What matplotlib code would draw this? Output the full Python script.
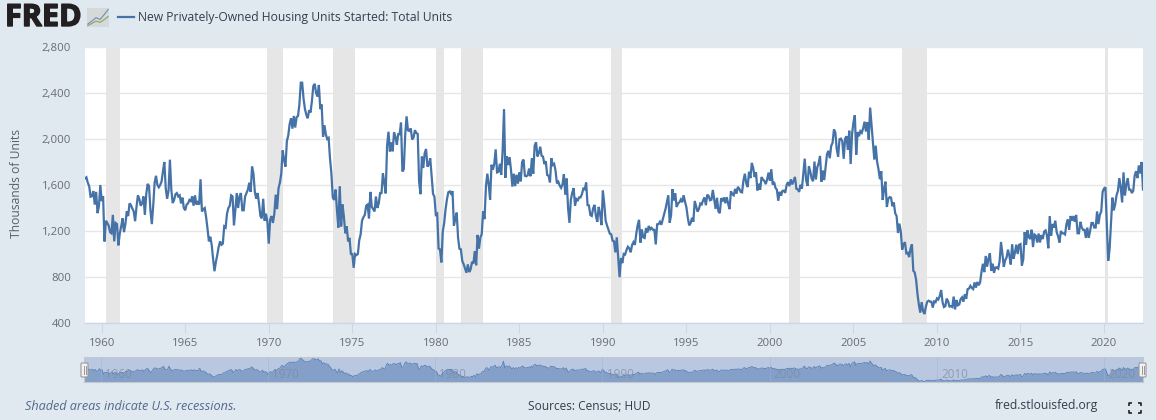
import numpy as np
import matplotlib
matplotlib.use('Agg')
import matplotlib.pyplot as plt
import matplotlib.patheffects as pe
from matplotlib.patches import FancyBboxPatch, Rectangle

# monthly housing starts, thousands of units
starts_1959_1969 = [
    1657,1667,1620,1590,1498,1503,1547,1430,1540,1355,1416,1600,
    1460,1503,1109,1289,1271,1247,1190,1180,1340,1110,1270,1260,
    1075,1180,1240,1310,1190,1260,1370,1330,1440,1425,1395,1370,
    1285,1410,1510,1480,1420,1440,1500,1340,1520,1610,1590,1380,
    1260,1420,1620,1680,1600,1580,1600,1630,1720,1800,1570,1480,
    1550,1820,1560,1443,1470,1520,1530,1500,1510,1440,1490,1400,
    1380,1430,1440,1470,1460,1500,1420,1510,1430,1450,1430,1650,
    1370,1390,1400,1320,1220,1110,1150,1080,960,850,930,990,
    1060,1110,1080,1090,1240,1230,1350,1400,1420,1510,1500,1250,
    1380,1530,1400,1500,1530,1380,1380,1500,1530,1560,1620,1540,
    1760,1700,1540,1480,1530,1440,1330,1310,1480,1290,1350,1280,
]
starts_1970_1979 = [
    1090,1300,1330,1270,1350,1516,1390,1570,1620,1700,1900,1820,
    1760,1980,2030,2130,2180,2090,2200,2100,2190,2200,2300,2490,
    2490,2350,2260,2210,2180,2250,2230,2330,2460,2480,2400,2370,
    2470,2260,2300,2020,2120,2040,2000,2010,1830,1700,1490,1470,
    1560,1380,1230,1590,1240,1430,1320,1180,1240,1110,1140,1000,
    1000,880,1000,990,1000,1120,1170,1290,1320,1340,1420,1430,
    1310,1540,1410,1390,1370,1500,1400,1440,1530,1530,1700,1620,
    1527,1943,2063,1892,1971,1893,2058,2020,1949,2042,2042,2142,
    1718,1738,2032,2197,2075,2070,2092,1996,2012,2077,2052,2044,
    1630,1520,1847,1748,1876,1913,1760,1779,1832,1681,1524,1498,
]
starts_1980_1989 = [
    1341,1350,1047,1040,927,1196,1269,1387,1476,1537,1544,1524,
    1547,1246,1306,1360,1140,1045,1041,940,911,873,837,910,
    843,866,931,917,1025,902,1166,1046,1144,1173,1372,1303,
    1586,1699,1606,1472,1776,1733,1785,1910,1710,1715,1785,1688,
    1897,2260,1663,1851,1774,1843,1732,1586,1698,1590,1689,1612,
    1711,1632,1800,1821,1680,1676,1684,1743,1676,1834,1698,1942,
    1972,1848,1876,1933,1854,1847,1782,1807,1687,1681,1623,1833,
    1774,1784,1726,1614,1628,1594,1575,1605,1695,1515,1656,1400,
    1271,1473,1532,1573,1421,1478,1467,1493,1492,1522,1569,1563,
    1621,1425,1422,1339,1331,1397,1427,1332,1279,1410,1351,1251,
]
starts_1990_1999 = [
    1551,1437,1289,1248,1212,1177,1171,1115,1110,1014,1145,969,
    798,965,921,1001,996,1036,1063,1049,1015,1079,1103,1079,
    1176,1250,1297,1099,1214,1145,1139,1226,1186,1244,1214,1227,
    1210,1210,1083,1258,1260,1280,1254,1300,1343,1392,1452,1511,
    1272,1337,1564,1465,1526,1409,1439,1450,1474,1450,1511,1455,
    1407,1316,1249,1267,1314,1281,1461,1416,1369,1392,1439,1431,
    1467,1491,1424,1516,1504,1467,1472,1557,1475,1392,1489,1370,
    1355,1486,1457,1492,1442,1494,1437,1390,1546,1520,1510,1566,
    1525,1584,1567,1540,1536,1641,1698,1614,1582,1715,1660,1792,
    1748,1670,1710,1553,1611,1559,1669,1648,1635,1608,1648,1708,
]
starts_2000_2009 = [
    1636,1737,1604,1626,1575,1559,1463,1541,1507,1549,1551,1532,
    1600,1625,1590,1649,1605,1636,1670,1567,1562,1540,1602,1568,
    1698,1829,1642,1592,1764,1717,1655,1633,1804,1648,1753,1788,
    1853,1629,1726,1643,1751,1867,1897,1833,1939,1967,2083,2057,
    1911,1846,1998,2003,1981,1828,2002,2024,1905,2072,1782,2042,
    2142,2207,1864,2061,2025,2068,2054,2095,2151,2065,2147,1994,
    2273,2119,1969,1821,1942,1802,1737,1650,1720,1470,1565,1629,
    1409,1480,1495,1490,1415,1448,1354,1330,1183,1264,1197,1037,
    1084,1103,1006,1011,973,1046,1084,854,840,777,652,560,
    490,582,505,478,540,585,594,586,585,534,588,581,
]
starts_2010_2022 = [
    614,604,636,687,583,539,546,612,588,543,545,539,
    630,518,600,554,561,608,623,585,650,610,694,699,
    723,705,695,753,708,757,728,753,847,915,842,983,
    890,960,1005,853,916,836,883,883,873,936,1105,1003,
    888,947,969,1038,985,909,1085,958,1012,1081,1000,1080,
    1086,900,954,1190,1079,1205,1146,1130,1211,1060,1170,1160,
    1100,1178,1100,1164,1130,1195,1205,1160,1050,1330,1160,1260,
    1230,1290,1190,1154,1100,1200,1180,1180,1170,1260,1300,1210,
    1330,1290,1330,1280,1340,1180,1180,1280,1230,1210,1210,1140,
    1230,1140,1200,1270,1270,1230,1230,1370,1260,1340,1370,1540,
    1570,1580,1270,940,1040,1270,1490,1380,1430,1510,1550,1660,
    1580,1450,1710,1510,1600,1660,1560,1560,1530,1550,1680,1720,
    1660,1770,1700,1800,1560,
]

recession_start = [1960.25, 1969.92, 1973.83, 1980.0, 1981.5, 1990.5, 2001.17, 2007.92, 2020.08]
recession_end = [1961.08, 1970.83, 1975.17, 1980.5, 1982.83, 1991.17, 2001.83, 2009.42, 2020.25]

x_ticks = [1960,1965,1970,1975,1980,1985,1990,1995,2000,2005,2010,2015,2020]
y_ticks = [400,800,1200,1600,2000,2400,2800]
nav_ticks = [1960,1970,1980,1990,2000,2010,2020]

values = np.array(starts_1959_1969 + starts_1970_1979 + starts_1980_1989
                  + starts_1990_1999 + starts_2000_2009 + starts_2010_2022)
dates = 1959 + np.arange(len(values))/12.

W, H = 1156., 420.
BG = '#e1e9f0'
LINE = '#4572a7'
GREY = '#666c78'
plt.rcParams['font.family'] = ['Open Sans', 'DejaVu Sans']

def px_axes(fig, x0, y0, x1, y1):
    # pixel box, y measured from the top of the picture
    return fig.add_axes([x0/W, 1-y1/H, (x1-x0)/W, (y1-y0)/H])

def px_text(fig, x, y, s, **kw):
    return fig.text(x/W, 1-y/H, s, va='center', **kw)

fig = plt.figure(figsize=(11.56,4.2), dpi=100, facecolor=BG)

# main chart
ax = px_axes(fig, 85, 47, 1143, 323)
for a,b in zip(recession_start, recession_end):
    ax.axvspan(a, b, color='#e6e6e6', lw=0, zorder=2)
ax.plot(dates, values, color=LINE, lw=1.6, zorder=3, solid_joinstyle='miter')
ax.set_xlim(dates[0], dates[-1])
ax.set_ylim(400, 2800)
ax.set_yticks(y_ticks)
ax.set_yticklabels(['{:,}'.format(y) for y in y_ticks])
ax.set_xticks(x_ticks)
ax.grid(axis='y', color='#e6e6e6', lw=1.0, zorder=1)
ax.set_axisbelow(True)
for s in ['top','left','right']:
    ax.spines[s].set_visible(False)
ax.spines['bottom'].set_color('#ccd6eb')
ax.spines['bottom'].set_linewidth(1.0)
ax.tick_params(axis='x', length=7, width=0.8, color='#ccd6eb', labelcolor=GREY, labelsize=8.2, pad=4)
ax.tick_params(axis='y', length=0, labelcolor=GREY, labelsize=8.2, pad=10)

px_text(fig, 17, 183, 'Thousands of Units', rotation=90, ha='center', fontsize=8.7, color='#55606e')

# header
px_text(fig, 5, 18, 'FRED', fontsize=22, fontweight='bold', color='#231f20', family=['Open Sans'],
        path_effects=[pe.withStroke(linewidth=1.0, foreground='#231f20')])
ax_icon = px_axes(fig, 87, 8, 109, 27)
ax_icon.add_patch(Rectangle((0,0), 1, 1, transform=ax_icon.transAxes, fc='#d5d9da', ec='none'))
ax_icon.plot([0,1,2,3,4,5], [1,2,3.2,2.6,4.2,6], color='#6f8fb0', lw=0.8)
ax_icon.plot([0,1,2,3,4,5], [0.5,1.2,2,1.6,2.5,3.6], color='#8aa55f', lw=0.8)
ax_icon.set_xlim(-0.2,5.2)
ax_icon.set_ylim(0,6.5)
ax_icon.axis('off')
fig.add_artist(plt.Line2D([118/W,134/W], [1-17/H,1-17/H], color=LINE, lw=1.6))
px_text(fig, 138, 17, 'New Privately-Owned Housing Units Started: Total Units', fontsize=8.7, color='#333d4d')

# range navigator
nav = px_axes(fig, 84, 357, 1143, 382)
nav.set_facecolor('#b9c8e0')
nav.fill_between(dates, values, 0, color='#84a0c9', lw=0)
nav.plot(dates, values, color='#5a80b4', lw=0.6)
nav.set_xlim(dates[0], dates[-1])
nav.set_ylim(440, 2620)
nav.set_xticks([])
nav.set_yticks([])
for s in nav.spines.values():
    s.set_color('#c4c8d0')
    s.set_linewidth(0.8)
for t in nav_ticks:
    nav.axvline(t, color='#9db1d2', lw=0.6, alpha=0.5)
    nav.text(t+0.25, 500, str(t), fontsize=8.4, color='#7a88a0', alpha=0.7, va='bottom', ha='left')

# navigator handles
ax_handle = fig.add_axes([0,0,1,1], facecolor='none')
ax_handle.set_xlim(0,W)
ax_handle.set_ylim(H,0)
ax_handle.axis('off')
for hx in [81, 1139]:
    ax_handle.add_patch(FancyBboxPatch((hx,363), 7, 14, boxstyle='round,pad=0,rounding_size=1',
                                       fc='#f2f2f2', ec='#999999', lw=0.8))
    ax_handle.plot([hx+2.5,hx+2.5], [366,374], color='#999999', lw=0.7)
    ax_handle.plot([hx+4.5,hx+4.5], [366,374], color='#999999', lw=0.7)

# fullscreen icon
for cx,cy,dx,dy in [(1129,403,1,1),(1141,403,-1,1),(1129,413,1,-1),(1141,413,-1,-1)]:
    ax_handle.plot([cx+3*dx,cx,cx], [cy,cy,cy+3*dy], color='#222222', lw=1.2, solid_capstyle='butt')

# footer
px_text(fig, 25, 406, 'Shaded areas indicate U.S. recessions.', fontsize=9.1, style='italic', color='#53688f')
px_text(fig, 589.5, 406, 'Sources: Census; HUD', fontsize=8.6, ha='center', color='#333d4d')
px_text(fig, 1098, 406, 'fred.stlouisfed.org', fontsize=8.7, ha='right', color='#333d4d')

fig.savefig('out.png', dpi=100, facecolor=BG)
